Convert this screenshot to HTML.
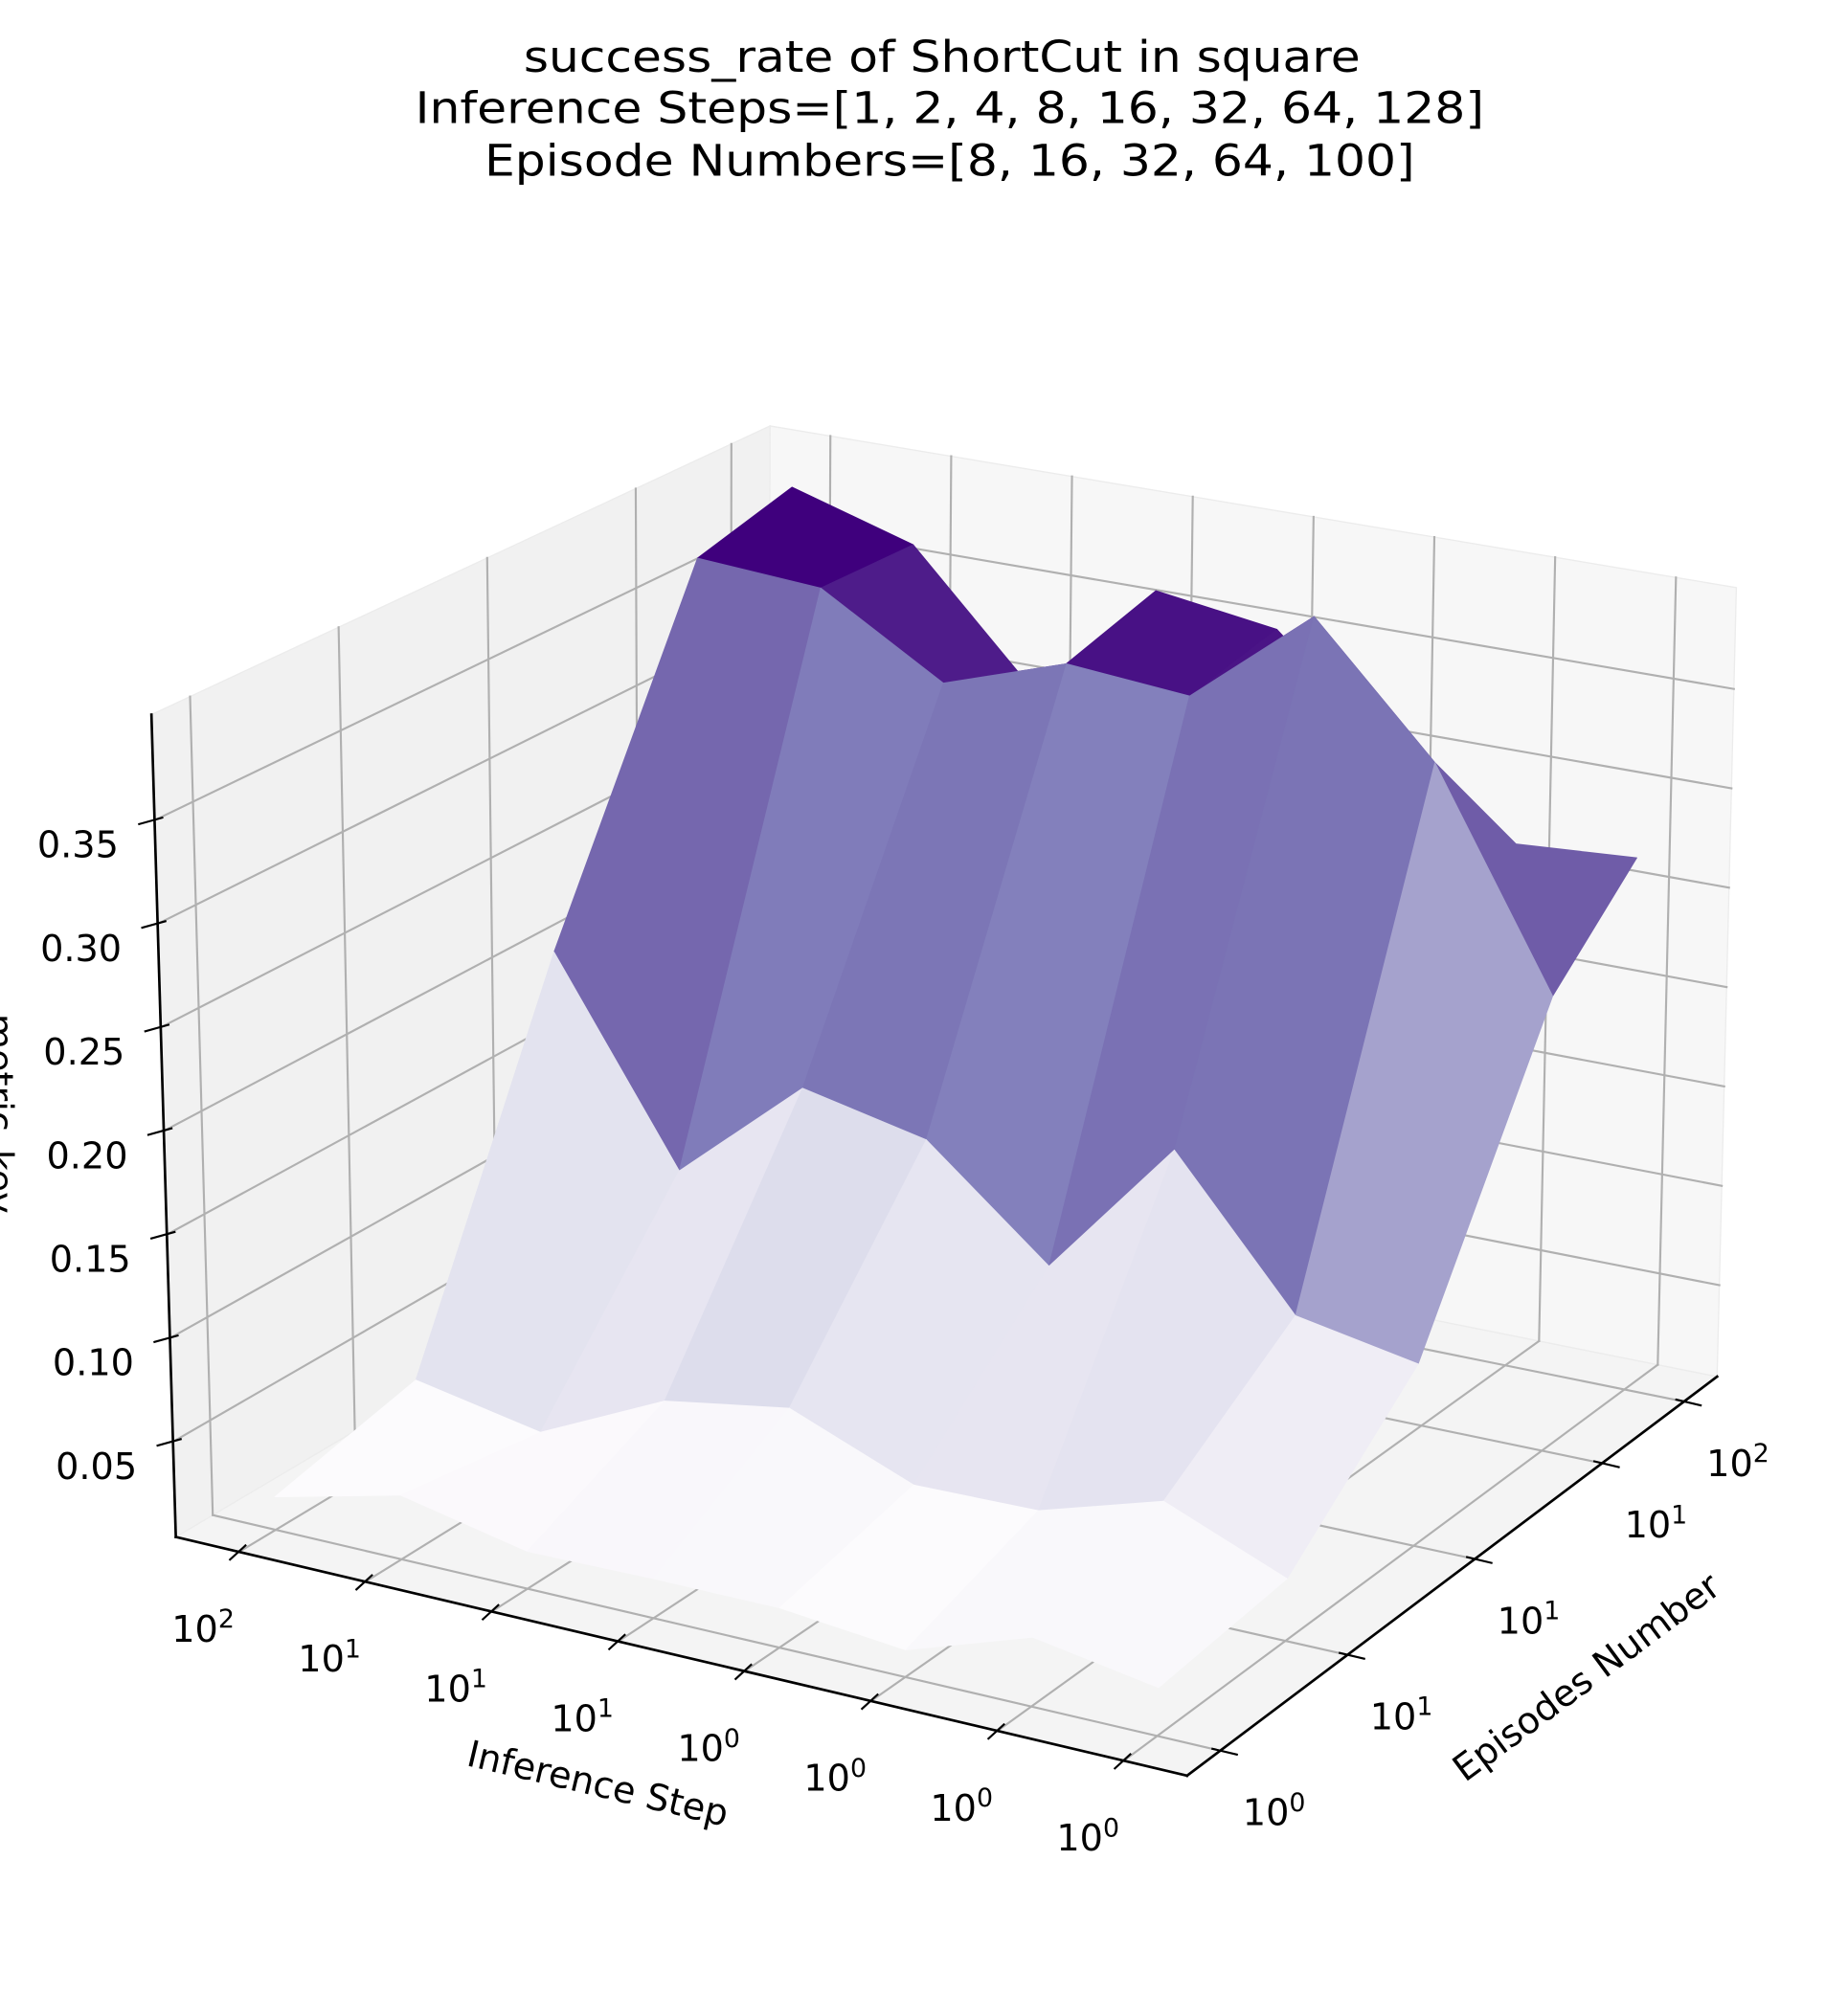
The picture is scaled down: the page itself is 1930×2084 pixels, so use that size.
<!DOCTYPE html>
<html><head><meta charset="utf-8"><style>
html,body{margin:0;padding:0;background:#fff;}
svg{display:block;}
text{font-family:"DejaVu Sans","Liberation Sans",sans-serif;fill:#000;}
</style></head>
<body>
<svg id="chart" width="1930" height="2084" viewBox="0 0 1440 1555" preserveAspectRatio="none" xmlns="http://www.w3.org/2000/svg">
<g>
<text x="734" y="56" font-size="34" text-anchor="middle" textLength="652" lengthAdjust="spacingAndGlyphs">success_rate of ShortCut in square</text>
<text x="740" y="96" font-size="34" text-anchor="middle" textLength="833" lengthAdjust="spacingAndGlyphs">Inference Steps=[1, 2, 4, 8, 16, 32, 64, 128]</text>
<text x="740" y="137" font-size="34" text-anchor="middle" textLength="725" lengthAdjust="spacingAndGlyphs">Episode Numbers=[8, 16, 32, 64, 100]</text>
</g>
<g id="panes"></g>
<g id="grid"></g>
<g id="surface"></g>
<g id="axes"></g>
<text x="466" y="1400" font-size="28.5" text-anchor="middle" transform="rotate(13.3 466 1390)">Inference Step</text>
<text x="1236" y="1317" font-size="28.5" text-anchor="middle" transform="rotate(-36.6 1236 1307)">Episodes Number</text>
<text x="-10" y="868" font-size="28.5" text-anchor="middle" transform="rotate(90 -10 868)">metric_key</text>
</svg>
<script>
const inferenceSteps = [1, 2, 4, 8, 16, 32, 64, 128];
const episodeNumbers = [8, 16, 32, 64, 100];
const rateEp8   = [0.027, 0.037, 0.017, 0.023, 0.023, 0.022, 0.035, 0.020];
const rateEp16  = [0.034, 0.058, 0.040, 0.039, 0.063, 0.053, 0.024, 0.036];
const rateEp32  = [0.093, 0.104, 0.173, 0.103, 0.153, 0.166, 0.112, 0.209];
const rateEp64  = [0.230, 0.335, 0.397, 0.346, 0.351, 0.330, 0.367, 0.371];
const rateEp100 = [0.271, 0.267, 0.300, 0.354, 0.363, 0.301, 0.365, 0.384];
const zTicks = [0.05, 0.10, 0.15, 0.20, 0.25, 0.30, 0.35];
const zTickLabels = ["0.05", "0.10", "0.15", "0.20", "0.25", "0.30", "0.35"];

const rates = [rateEp8, rateEp16, rateEp32, rateEp64, rateEp100];
const NS = "http://www.w3.org/2000/svg";

const A=[137,1198], B=[925,1384], C=[1338,1073], D=[598,925];
const HA=[-19,-641], HB=[20,-655], HC=[15,-615], HD=[2,-593];
const ZMIN=0.004, ZMAX=0.401;
const L2 = Math.log2;
const lmin = L2(Math.min(...inferenceSteps)), lmax = L2(Math.max(...inferenceSteps));
const emin = L2(Math.min(...episodeNumbers)), emax = L2(Math.max(...episodeNumbers));
function uScale(s){ const pad=0.5; return (lmax - L2(s) + pad)/(lmax-lmin+2*pad); }
function vScale(e){ const pad=0.26; return (L2(e)-emin+pad)/(emax-emin+2*pad); }
function wScale(z){ return (z-ZMIN)/(ZMAX-ZMIN); }
function bil(P0,P1,P2,P3,u,v,k){ return (1-u)*(1-v)*P0[k]+u*(1-v)*P1[k]+u*v*P2[k]+(1-u)*v*P3[k]; }
function proj(u,v,w){
  return [bil(A,B,C,D,u,v,0)+w*bil(HA,HB,HC,HD,u,v,0), bil(A,B,C,D,u,v,1)+w*bil(HA,HB,HC,HD,u,v,1)];
}
function pts(arr){ return arr.map(p=>p[0].toFixed(1)+","+p[1].toFixed(1)).join(" "); }
function line(g,p,q,stroke,sw){
  const l=document.createElementNS(NS,"line");
  l.setAttribute("x1",p[0]);l.setAttribute("y1",p[1]);l.setAttribute("x2",q[0]);l.setAttribute("y2",q[1]);
  l.setAttribute("stroke",stroke);l.setAttribute("stroke-width",sw);l.setAttribute("stroke-linecap","square");
  g.appendChild(l); return l;
}
function poly(g,arr,fill,stroke){
  const p=document.createElementNS(NS,"polygon");
  p.setAttribute("points",pts(arr));p.setAttribute("fill",fill);
  if(stroke){p.setAttribute("stroke",stroke);p.setAttribute("stroke-width","1");}
  g.appendChild(p); return p;
}

const panes=document.getElementById("panes");
let pf=poly(panes,[proj(0,0,0),proj(1,0,0),proj(1,1,0),proj(0,1,0)],"#f4f4f4","#ececec");


let pb=poly(panes,[proj(0,1,0),proj(1,1,0),proj(1,1,1),proj(0,1,1)],"#f7f7f7","#ececec");


let pl=poly(panes,[proj(0,0,0),proj(0,1,0),proj(0,1,1),proj(0,0,1)],"#f1f1f1","#ececec");



const grid=document.getElementById("grid");
const GC="#b0b0b0", GW=1.6;
inferenceSteps.forEach(s=>{
  const u=uScale(s);
  let g1=line(grid,proj(u,1,0),proj(u,1,1),GC,GW);
  
  
  let g2=line(grid,proj(u,0,0),proj(u,1,0),GC,GW);
  
  
});
episodeNumbers.forEach(e=>{
  const v=vScale(e);
  let g1=line(grid,proj(0,v,0),proj(0,v,1),GC,GW);
  
  
  let g2=line(grid,proj(0,v,0),proj(1,v,0),GC,GW);
  
  
});
zTicks.forEach(z=>{
  const w=wScale(z);
  let g1=line(grid,proj(0,1,w),proj(1,1,w),GC,GW);
  
  
  let g2=line(grid,proj(0,0,w),proj(0,1,w),GC,GW);
  
  
});

const stops=["#fcfbfd","#efedf5","#dadaeb","#bcbddc","#9e9ac8","#807dba","#6a51a3","#54278f","#3f007d"];
function hex2rgb(h){return [1,3,5].map(i=>parseInt(h.substr(i,2),16));}
function purples(t){
  t=Math.max(0,Math.min(1,t)); const x=t*(stops.length-1); const i=Math.min(stops.length-2,Math.floor(x)); const f=x-i;
  const a=hex2rgb(stops[i]), b=hex2rgb(stops[i+1]);
  return "rgb("+a.map((c,k)=>Math.round(c+(b[k]-c)*f)).join(",")+")";
}
const quads=[];
for(let j=0;j<episodeNumbers.length-1;j++){
  for(let i=0;i<inferenceSteps.length-1;i++){
    const c=[[i,j],[i+1,j],[i+1,j+1],[i,j+1]];
    const avg=c.reduce((s,[a,b])=>s+rates[b][a],0)/4;
    const p=c.map(([a,b])=>proj(uScale(inferenceSteps[a]),vScale(episodeNumbers[b]),wScale(rates[b][a])));
    const uc=(uScale(inferenceSteps[i])+uScale(inferenceSteps[i+1]))/2;
    const vc=(vScale(episodeNumbers[j])+vScale(episodeNumbers[j+1]))/2;
    quads.push({p,avg,depth:proj(uc,vc,0)[1],i,j});
  }
}
const vmin=Math.min(...quads.map(q=>q.avg)), vmax=Math.max(...quads.map(q=>q.avg));
quads.sort((a,b)=>a.depth-b.depth);
const surf=document.getElementById("surface");
quads.forEach(q=>{
  const col=purples((q.avg-vmin)/(vmax-vmin));
  const el=poly(surf,q.p,col,null);
  el.setAttribute("stroke",col);el.setAttribute("stroke-width","0.6");el.setAttribute("stroke-linejoin","round");
  
  
});

const axes=document.getElementById("axes");
let ax=line(axes,proj(0,0,0),proj(0,0,1),"#000",2);


let axx=line(axes,proj(0,0,0),proj(1,0,0),"#000",2);


let axy=line(axes,proj(1,0,0),proj(1,1,0),"#000",2);



function powLabel(x,y,val,name){
  const t=document.createElementNS(NS,"text");
  t.setAttribute("x",x);t.setAttribute("y",y);t.setAttribute("font-size","28.5");t.setAttribute("text-anchor","middle");
  const e=Math.floor(Math.log10(val)+1e-9);
  const a=document.createElementNS(NS,"tspan");a.textContent="10";
  const b=document.createElementNS(NS,"tspan");b.setAttribute("dy","-11");b.setAttribute("font-size","20");b.textContent=String(e);
  t.appendChild(a);t.appendChild(b);
  
  
  axes.appendChild(t);
}
inferenceSteps.forEach(s=>{
  const p=proj(uScale(s),0,0);
  let tk=line(axes,[p[0]-7,p[1]+6],[p[0]+5,p[1]-5],"#000",1.6);
  
  
  powLabel(p[0]-28,p[1]+70,s,'x-tick-label');
});
episodeNumbers.forEach(e=>{
  const p=proj(1,vScale(e),0);
  let tk=line(axes,[p[0]-6,p[1]-1.5],[p[0]+13,p[1]+3],"#000",1.6);
  
  
  powLabel(p[0]+42,p[1]+58,e,'y-tick-label');
});
zTicks.forEach((z,k)=>{
  const p=proj(0,0,wScale(z));
  let tk=line(axes,[p[0]-12,p[1]+3],[p[0]+6,p[1]-2],"#000",1.6);
  
  
  const t=document.createElementNS(NS,"text");
  t.setAttribute("x",p[0]-28);t.setAttribute("y",p[1]+29);t.setAttribute("font-size","28.5");t.setAttribute("text-anchor","end");
  t.textContent=zTickLabels[k];
  
  
  axes.appendChild(t);
});
</script>
</body></html>
